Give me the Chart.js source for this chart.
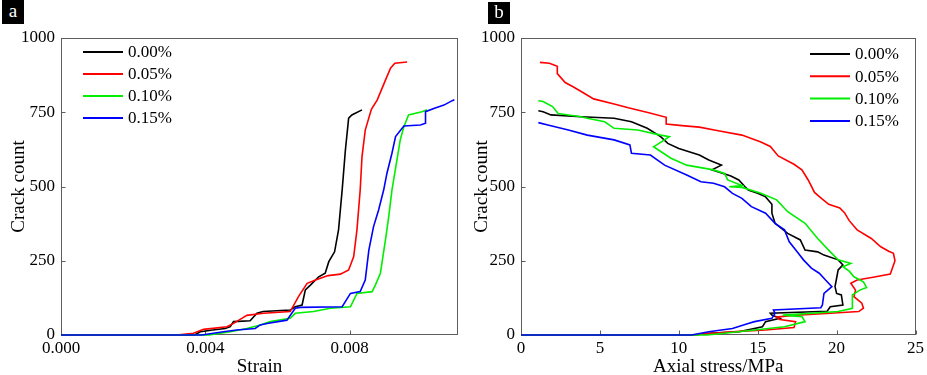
<!DOCTYPE html>
<html>
<head>
<meta charset="utf-8">
<script src="https://cdn.jsdelivr.net/npm/chart.js@4"></script>
<style>
  html, body { margin: 0; padding: 0; background: #fff; overflow: hidden; }
  #wrap { position: relative; width: 927px; height: 375px; }
  canvas { position: absolute; top: 0; }
  .tag { position: absolute; background: #000; color: #fff; font-family: "Liberation Serif", serif; font-size: 19px; text-align: center; }
</style>
</head>
<body>
<div id="wrap">
  <canvas id="ca" width="463" height="375" style="left:0"></canvas>
  <canvas id="cb" width="464" height="375" style="left:463px"></canvas>
  <div class="tag" style="left:2px;top:0;width:22px;height:24px;line-height:22px;">a</div>
  <div class="tag" style="left:488px;top:2px;width:22px;height:22px;line-height:20px;">b</div>
</div>
<script>
// ---------- DATA ----------
const seriesLabels = ['0.00%', '0.05%', '0.10%', '0.15%'];
const seriesColors = ['#000000', '#ff0000', '#00ee00', '#0000ff'];

// Panel a: strain vs crack count
const strainA00 = [0,0.0037,0.00386,0.0042,0.00455,0.00469,0.00478,0.00524,0.00543,0.0056,0.00635,0.00649,0.00668,0.00677,0.00691,0.00714,0.00732,0.00742,0.00758,0.00769,0.00774,0.00779,0.00788,0.00797,0.00806,0.00834];
const countA00  = [0,0,11,17,22,28,45,48,73,79,84,95,101,152,168,196,208,247,280,354,421,488,623,730,741,758];

const strainA05 = [0,0.0032,0.00367,0.00395,0.0046,0.00478,0.00501,0.00515,0.00561,0.00635,0.00658,0.00682,0.00709,0.0074,0.00774,0.00797,0.00811,0.0082,0.00829,0.00834,0.00843,0.0086,0.00876,0.00899,0.00913,0.00925,0.00959];
const countA05  = [0,0,6,19,28,39,56,66,73,79,129,174,187,200,205,219,264,354,488,600,690,760,791,858,898,915,919];

const strainA10 = [0,0.0041,0.00469,0.00515,0.00552,0.0058,0.00635,0.00649,0.007,0.00746,0.00802,0.0082,0.00862,0.00871,0.00885,0.00899,0.00908,0.00917,0.0094,0.0095,0.00963,0.01,0.01014];
const countA10  = [0,0,11,22,34,45,56,73,79,90,95,140,146,168,208,320,398,488,657,701,741,752,758];

const strainA15 = [0,0.0039,0.0045,0.00487,0.00538,0.00552,0.00571,0.00626,0.00649,0.00663,0.00779,0.00802,0.00829,0.00843,0.00853,0.00866,0.0088,0.00894,0.00903,0.00917,0.00927,0.0095,0.00996,0.0101,0.0101,0.01033,0.01061,0.01084,0.0109];
const countA15  = [0,0,11,17,22,34,39,50,90,93,95,140,146,185,286,365,421,488,544,612,668,704,707,713,752,763,774,789,792];

// Panel b: axial stress vs crack count
const stressB00 = [0,11.0,11.9,13.8,15.3,15.5,16.4,15.9,15.8,19.4,19.6,20.4,20.3,20.0,19.9,20.0,20.1,20.4,20.1,19.2,18.8,18.0,17.7,16.9,16.1,15.9,15.9,15.5,15.0,14.4,14.2,13.8,13.3,12.1,12.7,11.9,11.3,10.0,9.3,8.85,8.0,7.0,5.9,3.8,1.9,1.4,1.1];
const countB00  = [0,0,6,11,28,45,56,67,73,80,95,101,135,140,163,191,219,236,253,269,280,286,320,342,376,410,440,465,477,488,499,522,535,556,572,589,606,628,645,668,696,718,730,735,741,752,755];

const stressB05 = [0,10.9,12.1,14.3,15.5,17.3,17.4,16.4,16.2,17.2,19.6,21.4,21.7,21.6,21.1,21.2,20.9,21.3,22.4,23.4,23.5,23.7,23.6,23.3,22.8,22.2,21.3,20.8,20.5,20.2,19.5,19.0,18.6,18.2,17.8,17.3,16.3,15.8,15.2,14.0,12.5,11.3,10.2,9.2,9.2,8.1,6.8,5.9,4.6,4.0,3.3,2.8,2.3,2.3,1.8,1.2];
const countB05  = [0,0,6,14,17,25,45,52,60,66,73,79,90,107,129,151,174,185,195,205,220,250,275,282,297,325,354,385,412,428,440,462,480,522,556,575,603,635,650,673,688,700,705,710,733,748,765,778,795,814,836,850,880,905,915,918];

const stressB10 = [0,11.8,12.9,14.8,16.7,18.0,17.8,16.6,20.1,21.0,21.0,21.0,21.5,21.9,21.7,21.1,20.8,20.4,20.9,20.1,19.6,18.8,18.0,16.9,16.2,15.2,14.0,13.2,14.0,13.1,12.9,12.2,10.5,9.5,8.4,8.6,9.4,8.85,7.4,5.9,5.3,4.2,3.8,2.35,2.0,1.4,1.1];
const countB10  = [0,0,6,17,28,45,62,67,79,90,118,135,152,160,179,196,215,230,241,253,280,325,376,415,455,477,497,499,503,522,544,556,572,595,634,640,668,673,690,696,718,730,735,746,769,786,789];

const stressB15 = [0,10.8,11.9,13.4,14.4,14.8,15.9,16.1,16.0,19.0,19.1,19.2,19.7,19.3,18.9,18.4,17.9,17.5,17.0,16.7,16.1,15.5,14.6,14.0,13.4,12.9,12.2,11.4,10.5,9.1,8.2,7.0,6.9,5.9,4.2,3.0,1.7,1.1];
const countB15  = [0,0,11,22,39,45,56,73,84,92,101,140,163,185,208,225,253,280,314,354,376,410,432,460,477,499,511,516,539,572,606,612,640,657,673,690,707,715];

const xTicksA = [0, 0.004, 0.008];
const xTicksB = [0, 5, 10, 15, 20, 25];
const yTicks  = [0, 250, 500, 750, 1000];

// ---------- helpers ----------
function pts(xs, ys) { return xs.map((x, i) => ({ x: x, y: ys[i] })); }
function makeDatasets(xsList, ysList) {
  return xsList.map((xs, i) => ({
    label: seriesLabels[i],
    data: pts(xs, ysList[i]),
    borderColor: seriesColors[i],
    backgroundColor: seriesColors[i],
    borderWidth: 1.6,
    pointRadius: 0,
    showLine: true,
    tension: 0,
    fill: false,
    clip: false,
    order: 3 - i
  }));
}

const FONT = '"Liberation Serif", "Times New Roman", serif';

const framePlugin = {
  id: 'frame',
  beforeDatasetsDraw(chart) {
    const { ctx, chartArea: a, scales } = chart;
    ctx.save();
    ctx.strokeStyle = '#5c5c5c';
    ctx.lineWidth = 1;
    const L = Math.round(a.left) + 0.5, R = Math.round(a.right) - 0.5;
    const T = Math.round(a.top) + 0.5, B = Math.round(a.bottom) - 0.5;
    ctx.strokeRect(L, T, R - L, B - T);
    ctx.beginPath();
    scales.x.ticks.forEach(t => {
      const px = Math.round(scales.x.getPixelForValue(t.value)) + 0.5;
      ctx.moveTo(px, B); ctx.lineTo(px, B - 4);
    });
    scales.y.ticks.forEach(t => {
      const py = Math.round(scales.y.getPixelForValue(t.value)) + 0.5;
      ctx.moveTo(L, py); ctx.lineTo(L + 4, py);
    });
    ctx.stroke();
    ctx.restore();
  },
  afterDatasetsDraw(chart, args, opts) {
    const { ctx } = chart;
    const lg = opts.legend;
    ctx.save();
    ctx.font = '17px ' + FONT;
    ctx.textBaseline = 'middle';
    ctx.textAlign = 'left';
    chart.data.datasets.forEach((ds, i) => {
      const y = lg.y + i * lg.gap;
      ctx.strokeStyle = ds.borderColor;
      ctx.lineWidth = 2;
      ctx.beginPath();
      ctx.moveTo(lg.x, y); ctx.lineTo(lg.x + lg.len, y);
      ctx.stroke();
      ctx.fillStyle = '#000';
      ctx.fillText(ds.label, lg.x + lg.len + 5, y + 1);
    });
    ctx.restore();
  }
};

function makeChart(id, datasets, xOpts, yWidth, padRight, legend, xTitle) {
  return new Chart(document.getElementById(id), {
    type: 'scatter',
    data: { datasets: datasets },
    options: {
      responsive: false,
      animation: false,
      layout: { padding: { top: 38, right: padRight, bottom: -3, left: 0 } },
      plugins: {
        legend: { display: false },
        tooltip: { enabled: false },
        frame: { legend: legend }
      },
      scales: {
        x: Object.assign({
          type: 'linear',
          grid: { display: false, drawTicks: false },
          border: { display: false },
          title: { display: true, text: xTitle, color: '#000', font: { family: FONT, size: 19 }, padding: { top: 0, bottom: 0 } },
          afterFit: s => { s.height = 43; }
        }, xOpts),
        y: {
          type: 'linear', min: 0, max: 1000,
          grid: { display: false, drawTicks: false },
          border: { display: false },
          afterBuildTicks: s => { s.ticks = yTicks.map(v => ({ value: v })); },
          ticks: { color: '#000', font: { family: FONT, size: 17 }, padding: 6, callback: v => String(v) },
          title: { display: true, text: 'Crack count', color: '#000', font: { family: FONT, size: 19 }, padding: { top: 8, bottom: 0 } },
          afterFit: s => { s.width = yWidth; }
        }
      }
    },
    plugins: [framePlugin]
  });
}

makeChart('ca',
  makeDatasets([strainA00, strainA05, strainA10, strainA15], [countA00, countA05, countA10, countA15]),
  {
    min: 0, max: 0.011,
    afterBuildTicks: s => { s.ticks = xTicksA.map(v => ({ value: v })); },
    ticks: { color: '#000', font: { family: FONT, size: 17 }, padding: 3, callback: v => Number(v).toFixed(3) }
  },
  61, 5, { x: 83, y: 52, gap: 22, len: 40 }, 'Strain');

makeChart('cb',
  makeDatasets([stressB00, stressB05, stressB10, stressB15], [countB00, countB05, countB10, countB15]),
  {
    min: 0, max: 25,
    afterBuildTicks: s => { s.ticks = xTicksB.map(v => ({ value: v })); },
    ticks: { color: '#000', font: { family: FONT, size: 17 }, padding: 3, callback: v => String(v) }
  },
  58, 8.5, { x: 810 - 463, y: 54, gap: 22.3, len: 40 }, 'Axial stress/MPa');
</script>
</body>
</html>
